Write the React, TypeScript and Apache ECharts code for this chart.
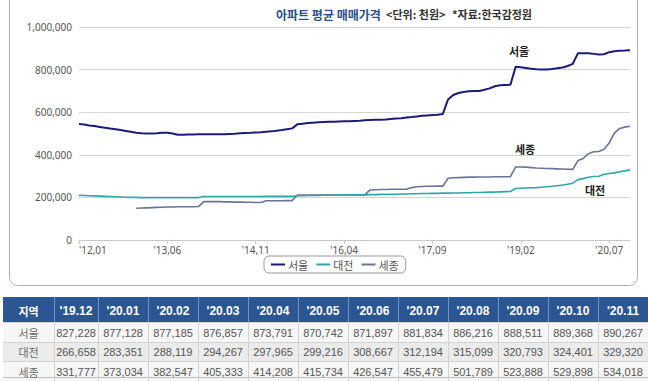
import React, { useEffect, useRef } from "react";
import * as echarts from "echarts";

// ---- data (천원) ----
const startYear = 2012;
const monthCount = 107; // 2012.01 ~ 2020.11

const seoul = [
  545000, 542000, 538000, 535000, 531000, 527000, 523000, 520000, 516000, 512000,
  508000, 504000, 501000, 500000, 500000, 501000, 503000, 504000, 500000, 494000,
  494000, 495000, 495000, 496000, 496000, 496000, 496000, 497000, 497000, 498000,
  499000, 501000, 502000, 503000, 505000, 506000, 508000, 510000, 513000, 516000,
  520000, 524000, 543000, 546000, 549000, 551000, 553000, 554000, 555000, 555000,
  556000, 557000, 558000, 559000, 560000, 562000, 563000, 564000, 565000, 566000,
  568000, 570000, 572000, 575000, 577000, 580000, 583000, 585000, 587000, 588000,
  592000, 660000, 681000, 690000, 695000, 698000, 700000, 700000, 705000, 712000,
  722000, 727000, 728000, 729000, 813000, 811000, 808000, 804000, 802000, 801000,
  801000, 803000, 806000, 810000, 817000, 827228, 877128, 877185, 876857, 873791,
  870742, 871897, 881834, 886216, 888511, 889368, 890267,
];

const daejeon = [
  210000, 209000, 208000, 207000, 206000, 205000, 204000, 203000, 202000, 201000,
  200000, 200000, 199000, 199000, 199000, 199000, 199000, 199000, 199000, 199000,
  199000, 199000, 199000, 199000, 204000, 204000, 204000, 204000, 204000, 204000,
  204000, 204000, 204000, 204000, 204000, 204000, 205000, 205000, 205000, 205000,
  205000, 205000, 208000, 208000, 209000, 209000, 209000, 210000, 210000, 210000,
  210000, 211000, 211000, 211000, 212000, 212000, 213000, 213000, 214000, 214000,
  215000, 215000, 216000, 216000, 217000, 217000, 218000, 218000, 219000, 219000,
  220000, 220000, 221000, 221000, 222000, 222000, 223000, 223000, 224000, 225000,
  225000, 226000, 227000, 228000, 242000, 243000, 244000, 245000, 246000, 248000,
  250000, 252000, 255000, 258000, 262000, 266658, 283351, 288119, 294267, 297965,
  299216, 308667, 312194, 315099, 320793, 324401, 329320,
];

const sejong = [
  null, null, null, null, null, null, null, null, null, null,
  null, 149000, 150000, 151000, 152000, 153000, 154000, 155000, 155000, 156000,
  156000, 156000, 156000, 157000, 180000, 180000, 180000, 180000, 179000, 179000,
  178000, 178000, 177000, 177000, 176000, 176000, 184000, 184000, 184000, 184000,
  185000, 185000, 211000, 211000, 211000, 211000, 211000, 211000, 211000, 211000,
  211000, 211000, 212000, 212000, 212000, 212000, 235000, 236000, 237000, 237000,
  238000, 238000, 238000, 238000, 246000, 250000, 251000, 252000, 252000, 253000,
  253000, 290000, 292000, 293000, 294000, 295000, 295000, 296000, 296000, 296000,
  297000, 297000, 297000, 297000, 343000, 343000, 342000, 340000, 338000, 337000,
  336000, 335000, 334000, 333000, 332000, 331777, 373034, 382547, 405333, 414208,
  415734, 426547, 455479, 501789, 523888, 529898, 534018,
];

const seriesNames = ["서울", "대전", "세종"];
const seriesColors = ["#1b1b7d", "#2fa7a7", "#6a7399"];
const tableMonths = [
  "'19.12", "'20.01", "'20.02", "'20.03", "'20.04", "'20.05",
  "'20.06", "'20.07", "'20.08", "'20.09", "'20.10", "'20.11",
];
const yTicks = [0, 200000, 400000, 600000, 800000, 1000000];

const categories: string[] = [];
for (let i = 0; i < monthCount; i++) {
  const y = startYear + Math.floor(i / 12);
  const m = (i % 12) + 1;
  categories.push("'" + String(y).slice(2) + "," + String(m).padStart(2, "0"));
}

const fmt = (v: number) => v.toLocaleString("en-US");

function buildTable(): any[] {
  const els: any[] = [];
  const edges = [3, 54];
  for (let k = 0; k <= 11; k++) edges.push(98 + 50 * k);
  edges.push(648);
  const rowEdges = [297, 322, 342, 361, 381];
  const kfont = '"Noto Sans CJK KR", sans-serif';
  const nfont = '"Liberation Sans", Arial, sans-serif';
  els.push({
    type: "rect",
    shape: { x: edges[0], y: rowEdges[0], width: edges[edges.length - 1] - edges[0], height: rowEdges[1] - rowEdges[0] },
    style: { fill: "#2c5593" },
    silent: true,
  });
  const rowFills = ["#f6f6f6", "#ebebeb", "#f6f6f6"];
  for (let r = 0; r < 3; r++) {
    els.push({
      type: "rect",
      shape: { x: edges[0], y: rowEdges[r + 1], width: edges[edges.length - 1] - edges[0], height: rowEdges[r + 2] - rowEdges[r + 1] },
      style: { fill: rowFills[r] },
      silent: true,
    });
    els.push({
      type: "line",
      shape: { x1: edges[0], y1: rowEdges[r + 1] + 0.5, x2: 648, y2: rowEdges[r + 1] + 0.5 },
      style: { stroke: "#d3d3d3", lineWidth: 1 },
      silent: true,
    });
  }
  els.push({
    type: "line",
    shape: { x1: edges[0], y1: 377.5, x2: 648, y2: 377.5 },
    style: { stroke: "#bdbdbd", lineWidth: 1 },
    silent: true,
  });
  for (let c = 1; c < edges.length - 1; c++) {
    els.push({
      type: "line",
      shape: { x1: edges[c] + 0.5, y1: rowEdges[0], x2: edges[c] + 0.5, y2: rowEdges[1] },
      style: { stroke: "#7392c2", lineWidth: 1 },
      silent: true,
    });
    els.push({
      type: "line",
      shape: { x1: edges[c] + 0.5, y1: rowEdges[1], x2: edges[c] + 0.5, y2: 381 },
      style: { stroke: "#d3d3d3", lineWidth: 1 },
      silent: true,
    });
  }
  const headers = ["지역", ...tableMonths];
  headers.forEach((h, c) => {
    const cx = (edges[c] + edges[c + 1]) / 2;
    els.push({
      type: "text",
      x: cx,
      y: (rowEdges[0] + rowEdges[1]) / 2 + 1,
      style: {
        text: h,
        fill: "#ffffff",
        font: c === 0 ? "bold 11px " + kfont : "bold 12px " + nfont,
        align: "center",
        verticalAlign: "middle",
        textAlign: "center",
        textVerticalAlign: "middle",
      },
      silent: true,
    });
  });
  const rows = [seoul, daejeon, sejong].map((s) => s.slice(-12) as number[]);
  rows.forEach((vals, r) => {
    const cy = (rowEdges[r + 1] + rowEdges[r + 2]) / 2 + 0.5;
    els.push({
      type: "text",
      x: (edges[0] + edges[1]) / 2,
      y: cy,
      style: {
        text: seriesNames[r],
        fill: "#6a6a6a",
        font: "11px " + kfont,
        align: "center",
        verticalAlign: "middle",
        textAlign: "center",
        textVerticalAlign: "middle",
      },
      silent: true,
    });
    vals.forEach((v, c) => {
      els.push({
        type: "text",
        x: (edges[c + 1] + edges[c + 2]) / 2,
        y: cy,
        style: {
          text: fmt(v),
          fill: "#555555",
          font: "11px " + nfont,
          align: "center",
          verticalAlign: "middle",
          textAlign: "center",
          textVerticalAlign: "middle",
        },
        silent: true,
      });
    });
  });
  return els;
}

function label(text: string, x: number, y: number, font: string, fill: string, align = "left"): any {
  return {
    type: "text",
    x,
    y,
    style: { text, font, fill, align, verticalAlign: "middle", textAlign: align, textVerticalAlign: "middle" },
    silent: true,
  };
}

export default function App() {
  const ref = useRef<HTMLDivElement>(null);
  useEffect(() => {
    if (!ref.current) return;
    const chart = echarts.init(ref.current, null, { renderer: "svg" });
    const kfont = '"Noto Sans CJK KR", sans-serif';
    const option: any = {
      animation: false,
      backgroundColor: "#ffffff",
      grid: { left: 79, right: 18, top: 27, bottom: 141, containLabel: false },
      xAxis: {
        type: "category",
        data: categories,
        boundaryGap: false,
        axisLine: { lineStyle: { color: "#c8c8c8" } },
        axisTick: { show: true, interval: 16, length: 4, lineStyle: { color: "#c8c8c8" } },
        axisLabel: {
          interval: 16,
          color: "#555555",
          fontSize: 10,
          lineHeight: 10,
          fontFamily: '"Noto Sans", sans-serif',
          margin: 5,
          alignMinLabel: "left",
        },
        splitLine: { show: false },
      },
      yAxis: {
        type: "value",
        min: 0,
        max: 1000000,
        interval: 200000,
        axisLine: { show: false },
        axisTick: { show: false },
        axisLabel: {
          color: "#555555",
          fontSize: 10,
          lineHeight: 10,
          fontFamily: '"Noto Sans", sans-serif',
          margin: 7,
          formatter: (v: number) => (yTicks.includes(v) ? fmt(v) : ""),
        },
        splitLine: { lineStyle: { color: "#d4d4d4", width: 1 } },
      },
      legend: {
        left: 264,
        top: 256,
        itemWidth: 14,
        itemHeight: 2,
        itemGap: 8,
        icon: "rect",
        padding: [3, 7, 3, 7],
        borderColor: "#9a9a9a",
        borderWidth: 1,
        borderRadius: 5,
        textStyle: { color: "#555555", fontSize: 11, fontFamily: kfont, padding: [0, 0, 0, -2] },
        data: seriesNames,
      },
      series: [seoul, daejeon, sejong].map((d, i) => ({
        name: seriesNames[i],
        type: "line",
        data: d,
        symbol: "none",
        smooth: false,
        connectNulls: false,
        lineStyle: { color: seriesColors[i], width: i === 0 ? 2 : 1.6 },
        itemStyle: { color: seriesColors[i] },
        z: 3 - i,
      })),
      graphic: [
        {
          type: "rect",
          shape: { x: 9.5, y: -10, width: 628, height: 295.5, r: 8 },
          style: { fill: "none", stroke: "#b0b0b0", lineWidth: 1 },
          silent: true,
          z: -1,
        },
        label("아파트 평균 매매가격", 276, 14, "bold 12px " + kfont, "#2b4f8e"),
        label("<단위: 천원>", 386, 14, "bold 11px " + kfont, "#333333"),
        label("*자료:한국감정원", 452, 14, "bold 11px " + kfont, "#333333"),
        label("서울", 519, 51, "bold 11px " + kfont, "#222222", "center"),
        label("세종", 525, 149, "bold 11px " + kfont, "#222222", "center"),
        label("대전", 595, 190, "bold 11px " + kfont, "#222222", "center"),
        ...buildTable(),
      ],
    };
    chart.setOption(option);
    return () => chart.dispose();
  }, []);
  return (
    <div
      ref={ref}
      style={{ position: "absolute", left: 0, top: 0, width: 648, height: 381 }}
    />
  );
}
